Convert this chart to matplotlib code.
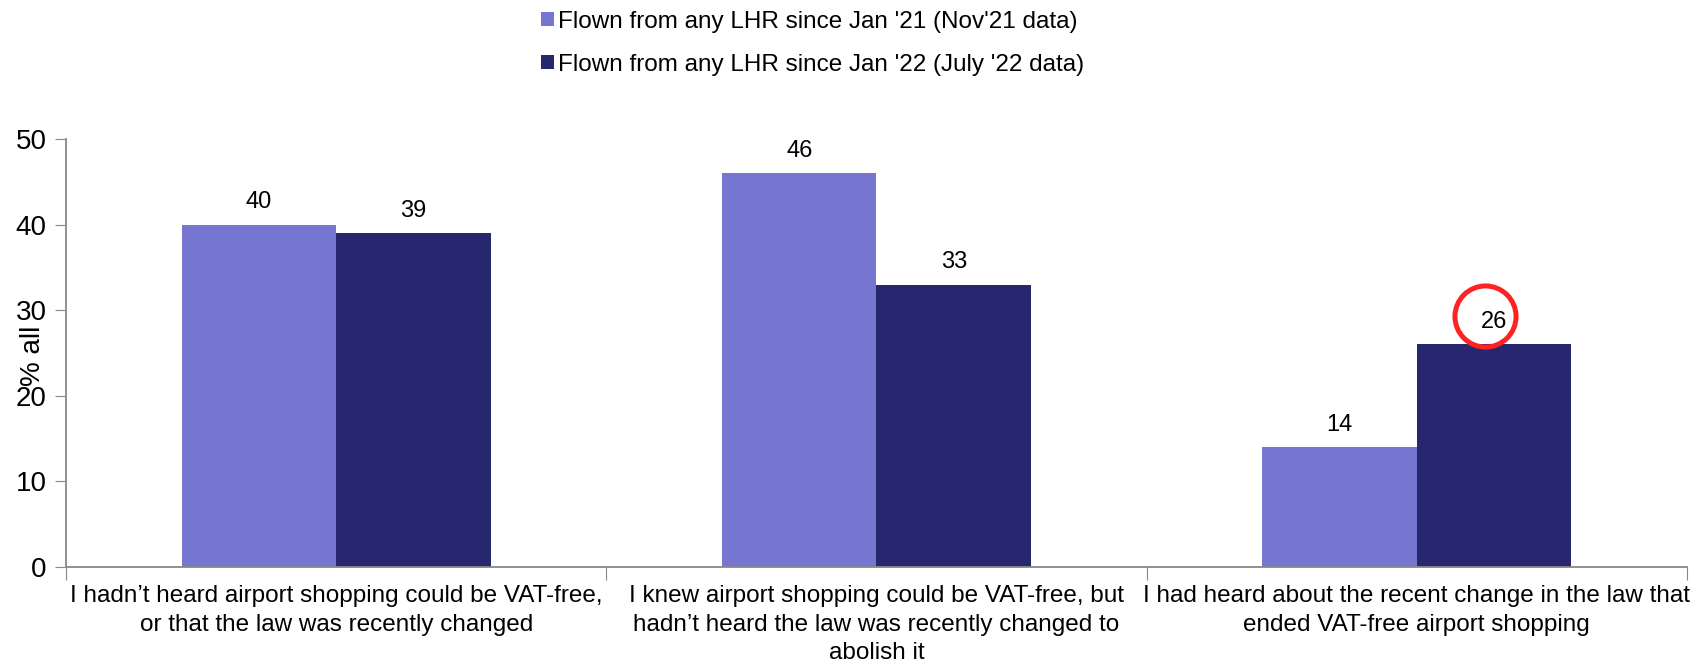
import numpy as np
import matplotlib.pyplot as plt
from matplotlib import transforms

plt.rcParams['font.family'] = ['Liberation Sans', 'DejaVu Sans']

categories = ["I hadn\u2019t heard airport shopping could be VAT-free,\nor that the law was recently changed",
              "I knew airport shopping could be VAT-free, but\nhadn\u2019t heard the law was recently changed to\nabolish it",
              "I had heard about the recent change in the law that\nended VAT-free airport shopping"]
series_names = ["Flown from any LHR since Jan '21 (Nov'21 data)",
                "Flown from any LHR since Jan '22 (July '22 data)"]
nov21 = [40, 46, 14]
jul22 = [39, 33, 26]
highlight = (1, 2)  # series, category that gets the red ring

colors = ['#7676D0', '#27276F']

fig = plt.figure(figsize=(16.99, 6.61), dpi=100)
ax = fig.add_axes([66/1699, 1-567/661, (1687-66)/1699, 428/661])

x = np.arange(len(categories))
w = 0.286
bars = []
for i, (vals, name) in enumerate(zip([nov21, jul22], series_names)):
    b = ax.bar(x + (i - 0.5) * w, vals, w, color=colors[i], label=name, zorder=2)
    bars.append(b)
    ax.bar_label(b, padding=8, fontsize=17)

# red ring around highlighted label
s, c = highlight
rect = bars[s][c]
ring_tr = transforms.offset_copy(ax.transData, fig=fig, x=-9, y=28, units='dots')
ax.plot(rect.get_x() + rect.get_width() / 2, rect.get_height(), marker='o',
        markersize=44, mfc='none', mec='#FF2222', mew=3.6, transform=ring_tr,
        clip_on=False, zorder=5)

ax.set_xlim(-0.5, 2.5)
ax.set_ylim(0, 50)
ax.set_yticks(range(0, 51, 10))
ax.set_xticks([-0.5, 0.5, 1.5, 2.5])
ax.set_xticklabels([])
ax.set_xticks(x, minor=True)
ax.set_xticklabels(categories, minor=True, fontsize=17.5, linespacing=1.38)
ax.tick_params(axis='x', which='minor', length=0, pad=13)
ax.tick_params(axis='x', which='major', length=9, color='#888888')
ax.tick_params(axis='y', labelsize=20, length=8, color='#888888', pad=6)
for sp in ['top', 'right']:
    ax.spines[sp].set_visible(False)
for sp in ['left', 'bottom']:
    ax.spines[sp].set_color('#888888')
    ax.spines[sp].set_linewidth(1.3)

ax.set_ylabel('% all', fontsize=20)
ax.yaxis.set_label_coords(-0.0125, 0.493)

fig.legend(loc='upper center', bbox_to_anchor=(0.478, 1.017), ncol=1, frameon=False,
           fontsize=17.5, handlelength=0.55, handleheight=0.55, handletextpad=0.15,
           labelspacing=0.86)

plt.savefig('out.png', dpi=100)
